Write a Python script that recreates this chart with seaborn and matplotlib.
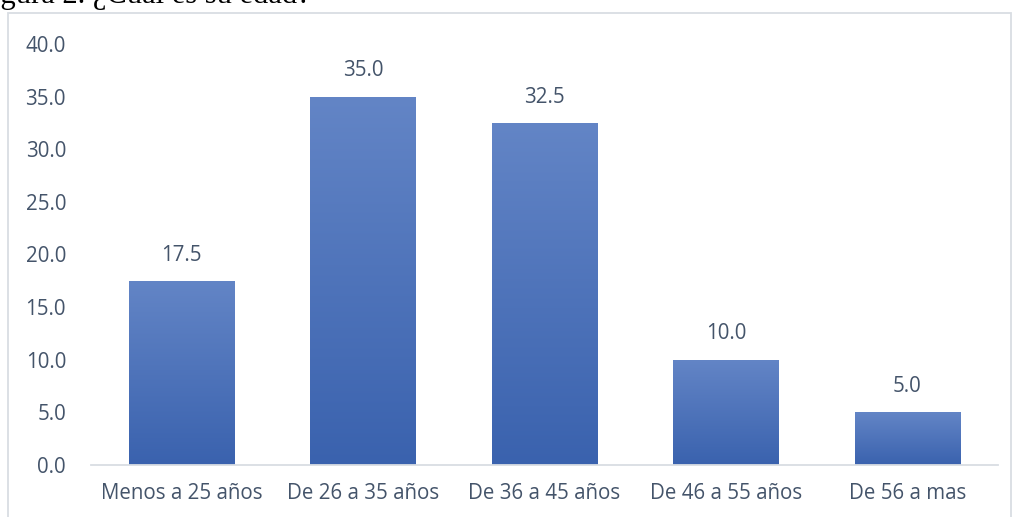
import numpy as np
import pandas as pd
import matplotlib
matplotlib.use("Agg")
import matplotlib.pyplot as plt
import seaborn as sns
from matplotlib.colors import LinearSegmentedColormap
from matplotlib.patches import Rectangle

categories = ["Menos a 25 años", "De 26 a 35 años", "De 36 a 45 años", "De 46 a 55 años", "De 56 a mas"]
values = [17.5, 35.0, 32.5, 10.0, 5.0]
yticks = [0, 5, 10, 15, 20, 25, 30, 35, 40]
title = "Figura 2. ¿Cuál es su edad?"

sns.set_theme(style="white")
plt.rcParams['font.family'] = ['Open Sans', 'DejaVu Sans']

text_color = "#44546a"
fig = plt.figure(figsize=(10.13, 5.17), dpi=100)
ax = fig.add_axes([91/1013, 1 - 465/517, (998 - 91)/1013, (465 - 44)/517])

df = pd.DataFrame({"cat": categories, "val": values})
sns.barplot(data=df, x="cat", y="val", color="#4a6fb8", width=0.58, ax=ax, saturation=1)

cmap = LinearSegmentedColormap.from_list("g", ["#3a62ae", "#6385c6"])
grad = np.linspace(0, 1, 256).reshape(-1, 1)
for p in ax.patches:
    x0, y0 = p.get_x(), p.get_y()
    w, h = p.get_width(), p.get_height()
    im = ax.imshow(grad, extent=[x0, x0 + w, y0, y0 + h], origin="lower",
                   cmap=cmap, aspect="auto", zorder=p.get_zorder() + 0.1)
    im.set_clip_path(p)
    ax.annotate(f"{h:.1f}", (x0 + w / 2, h), xytext=(0, 11), textcoords="offset points",
                ha="center", va="bottom", fontsize=14.8, color=text_color)

ax.set_xlim(-0.5, 4.5)
ax.set_ylim(0, 40)
ax.set_yticks(yticks)
ax.set_yticklabels([f"{v:.1f}" for v in yticks])
ax.set_xlabel("")
ax.set_ylabel("")
for s in ["top", "right", "left"]:
    ax.spines[s].set_visible(False)
ax.spines["bottom"].set_color("#d9dde3")
ax.spines["bottom"].set_linewidth(1.3)
ax.tick_params(axis="y", length=0, pad=18, labelsize=14.8, labelcolor=text_color)
ax.tick_params(axis="x", length=0, pad=13, labelsize=14.8, labelcolor=text_color)

# chart border
fig.patches.append(Rectangle((8/1013, -0.05), (1011 - 8)/1013, 1.05 - 13/517,
                             transform=fig.transFigure, fill=False,
                             edgecolor="#d9dde3", linewidth=1.3))

fig.text(-25/1013, 1 - 2.5/517, title, family=["Liberation Serif", "DejaVu Serif"],
         fontsize=22, color="black", ha="left", va="baseline")

fig.savefig("out.png", dpi=100)
